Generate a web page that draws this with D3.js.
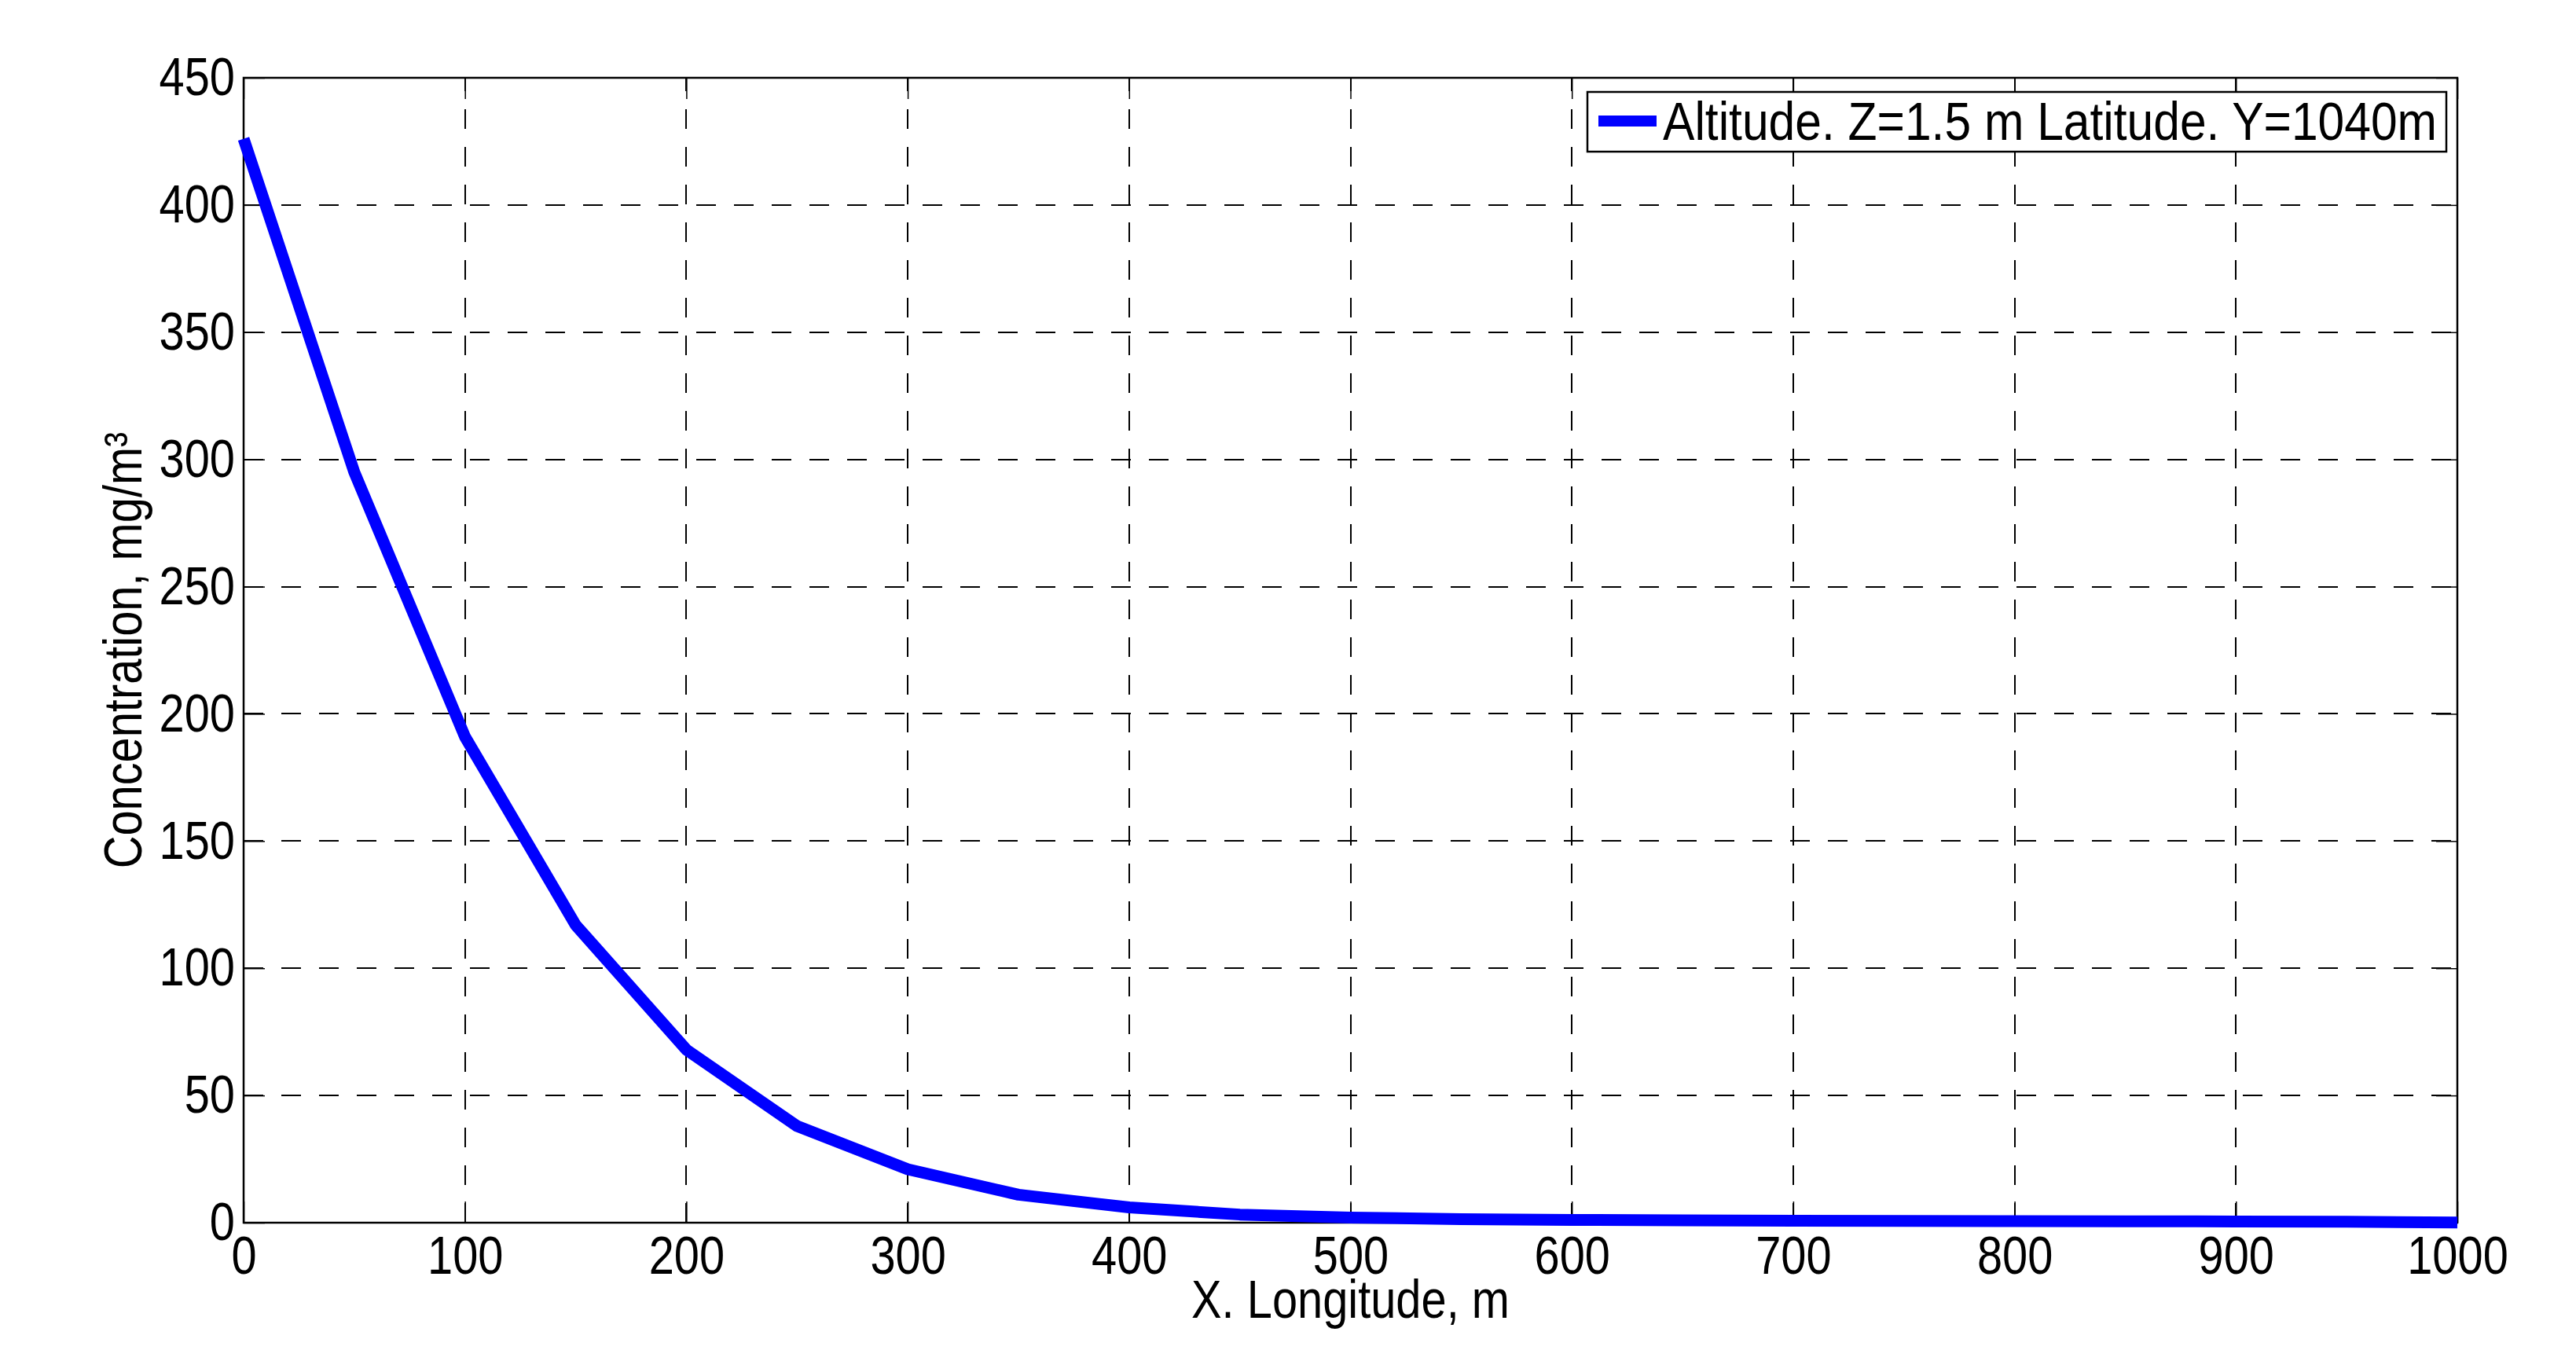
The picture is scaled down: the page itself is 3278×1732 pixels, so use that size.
<!DOCTYPE html>
<html><head><meta charset="utf-8">
<script src="https://cdn.jsdelivr.net/npm/d3@7"></script>
<style>body{margin:0;background:#fff}svg{display:block}text{font-family:"Liberation Sans",Arial,sans-serif}</style>
</head><body>
<script>
const xValues = [0,50,100,150,200,250,300,350,400,450,500,550,600,650,700,750,800,850,900,950,1000];
const concentration = [426,295,191,117,68,38,21,11,6,3.2,2,1.4,1.1,0.9,0.8,0.7,0.6,0.55,0.5,0.4,0.05];
const xTicks = [0,100,200,300,400,500,600,700,800,900,1000];
const yTicks = [0,50,100,150,200,250,300,350,400,450];
const legendLabel = "Altitude. Z=1.5 m Latitude. Y=1040m";
const xLabel = "X. Longitude, m";
const yLabel = "Concentration, mg/m³";

const W = 3278, H = 1732;
const m = {left:310, right:W-3127, top:99, bottom:H-1556};
const svg = d3.select("body").append("svg").attr("width",W).attr("height",H);
const x = d3.scaleLinear().domain([0,1000]).range([m.left, W-m.right]);
const y = d3.scaleLinear().domain([0,450]).range([H-m.bottom, m.top]);
const x0 = x.range()[0], x1 = x.range()[1], y0 = y.range()[0], y1 = y.range()[1];
const FS = 68, SQ = 0.85;

function condense(sel, ratio){
  sel.each(function(){
    const L = this.getComputedTextLength();
    d3.select(this).attr("textLength", L*ratio).attr("lengthAdjust","spacingAndGlyphs");
  });
}

// grid
const g = svg.append("g").attr("shape-rendering","crispEdges");
g.selectAll(".vg").data(xTicks.slice(1,-1)).join("line")
  .attr("x1",d=>Math.round(x(d))).attr("x2",d=>Math.round(x(d))).attr("y1",y0).attr("y2",y1)
  .attr("stroke","#000").attr("stroke-width",1.5).attr("stroke-dasharray","25,23");
g.selectAll(".hg").data(yTicks.slice(1,-1)).join("line")
  .attr("x1",x0).attr("x2",x1).attr("y1",d=>Math.round(y(d))).attr("y2",d=>Math.round(y(d)))
  .attr("stroke","#000").attr("stroke-width",2).attr("stroke-dasharray","25,23");

// axes with inward ticks
const TL = 27;
const xAxB = d3.axisBottom(x).tickValues(xTicks).tickSize(-TL).tickPadding(17).tickFormat(d3.format("d"));
const yAxL = d3.axisLeft(y).tickValues(yTicks).tickSize(-TL).tickPadding(11).tickFormat(d3.format("d"));
const xAxT = d3.axisTop(x).tickValues(xTicks).tickSize(-TL).tickFormat("");
const yAxR = d3.axisRight(y).tickValues(yTicks).tickSize(-TL).tickFormat("");
function style(sel){
  sel.select(".domain").remove();
  sel.selectAll(".tick line").attr("stroke","#000").attr("stroke-width",1.5);
  sel.selectAll(".tick text").attr("fill","#000").style("font-size",FS+"px").style("font-family","'Liberation Sans',Arial,sans-serif");
}
const gxb = svg.append("g").attr("transform",`translate(0,${y0})`).call(xAxB).call(style);
const gyl = svg.append("g").attr("transform",`translate(${x0},0)`).call(yAxL).call(style);
svg.append("g").attr("transform",`translate(0,${y1})`).call(xAxT).call(style);
svg.append("g").attr("transform",`translate(${x1},0)`).call(yAxR).call(style);
condense(gxb.selectAll(".tick text"), SQ);
condense(gyl.selectAll(".tick text"), SQ);

// frame
svg.append("rect").attr("x",x0).attr("y",y1).attr("width",x1-x0).attr("height",y0-y1)
  .attr("fill","none").attr("stroke","#000").attr("stroke-width",2.5);

// data line
const line = d3.line().x((d,i)=>x(xValues[i])).y(d=>y(d));
svg.append("path").datum(concentration).attr("d",line)
  .attr("fill","none").attr("stroke","#0000ff").attr("stroke-width",15)
  .attr("stroke-linejoin","round").attr("stroke-linecap","butt");

// labels
svg.append("text").attr("x",(x0+x1)/2).attr("y",1677).attr("text-anchor","middle")
  .style("font-size",FS+"px").text(xLabel).call(condense, SQ);
svg.append("text").attr("transform",`translate(180,${(y0+y1)/2}) rotate(-90)`).attr("text-anchor","middle")
  .style("font-size",FS+"px").text(yLabel).call(condense, SQ);

// legend
const lg = svg.append("g");
lg.append("rect").attr("x",2020).attr("y",117).attr("width",1093).attr("height",76)
  .attr("fill","#fff").attr("stroke","#000").attr("stroke-width",2.5);
lg.append("line").attr("x1",2034).attr("x2",2108).attr("y1",154).attr("y2",154)
  .attr("stroke","#0000ff").attr("stroke-width",14);
lg.append("text").attr("x",2116).attr("y",178).style("font-size",FS+"px").text(legendLabel)
  .attr("textLength",985).attr("lengthAdjust","spacingAndGlyphs");
</script>
</body></html>
